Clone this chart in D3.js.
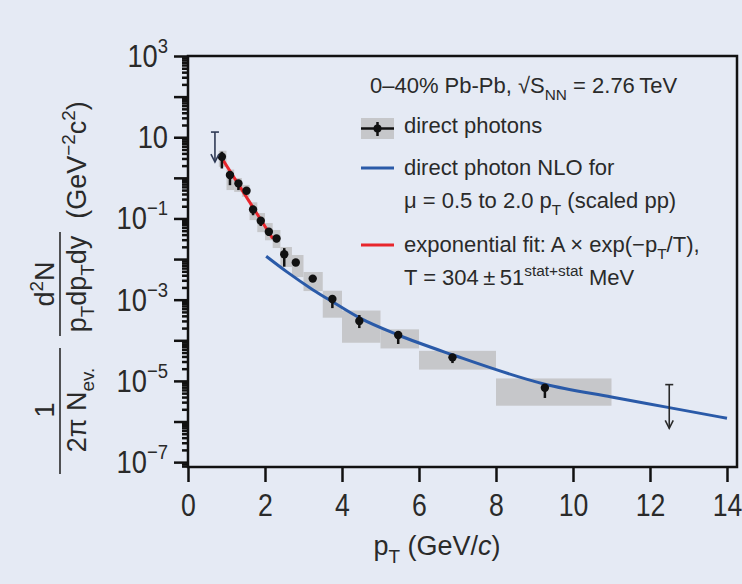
<!DOCTYPE html>
<html>
<head>
<meta charset="utf-8">
<script src="https://cdn.jsdelivr.net/npm/d3@7"></script>
<style>
  body { margin: 0; background: #e5eaf4; }
  svg { display: block; font-family: "Liberation Sans Narrow", "Arial Narrow", "Liberation Sans", sans-serif; }
  text { fill: #2a2a2a; }
</style>
</head>
<body>
<svg id="chart" width="742" height="584"></svg>
<script>
const pt     = [0.88, 1.09, 1.31, 1.52, 1.69, 1.89, 2.1, 2.3, 2.5, 2.8, 3.24, 3.75, 4.45, 5.46, 6.87, 9.27];
const yields = [3.3, 1.17, 0.73, 0.48, 0.166, 0.088, 0.047, 0.032, 0.0131, 0.0082, 0.0033, 0.00104, 3.0e-4, 1.35e-4, 3.8e-5, 6.8e-6];
const binLo  = [0.8, 1.0, 1.2, 1.4, 1.6, 1.8, 2.0, 2.2, 2.4, 2.7, 3.0, 3.5, 4.0, 5.0, 6.0, 8.0];
const binHi  = [1.0, 1.2, 1.4, 1.6, 1.8, 2.0, 2.2, 2.4, 2.7, 3.0, 3.5, 4.0, 5.0, 6.0, 8.0, 11.0];
const sysLo  = [1.87, 0.5, 0.45, 0.34, 0.091, 0.046, 0.029, 0.0187, 0.0064, 0.0036, 0.00163, 3.6e-4, 8.7e-5, 6.3e-5, 1.9e-5, 2.45e-6];
const sysHi  = [4.65, 1.6, 0.99, 0.67, 0.25, 0.136, 0.077, 0.052, 0.0198, 0.0126, 0.0048, 0.00166, 5.4e-4, 1.86e-4, 5.5e-5, 1.15e-5];
const statLo = [1.7, 0.66, 0.5, 0.4, 0.12, 0.065, 0.037, 0.026, 0.0065, 0.0068, 0.0028, 6.2e-4, 2.0e-4, 8.1e-5, 2.75e-5, 3.8e-6];
const statHi = [4.4, 1.35, 0.85, 0.55, 0.19, 0.1, 0.053, 0.036, 0.0186, 0.009, 0.0036, 0.0013, 4.2e-4, 1.6e-4, 4.2e-5, 7.5e-6];

// upper limits
const ulPt  = [0.7, 12.5];
const ulTop = [13.4, 8.1e-6];
const ulTip = [2.45, 6.8e-7];

// NLO pQCD curve (scaled pp)
const nloPt = [2.03, 2.56, 3.25, 3.75, 4.47, 5.46, 6.87, 9.27, 11.0, 12.5, 14.0];
const nloY  = [0.0117, 0.0049, 0.00174, 8.9e-4, 3.5e-4, 1.35e-4, 4.4e-5, 8.3e-6, 4.0e-6, 2.2e-6, 1.2e-6];

// exponential fit (straight on log scale)
const fitPt = [0.83, 2.2];
const fitY  = [3.6, 0.032];

const xTicks = [0, 2, 4, 6, 8, 10, 12, 14];
const yLabelExp = [3, 1, -1, -3, -5, -7];

const svg = d3.select("#chart");
const mLeft = 188, mRight = 737, mTop = 56, mBottom = 467;

const x = d3.scaleLinear().domain([0, 14.26]).range([mLeft, mRight]);
const y = d3.scaleLog().domain([Math.pow(10, -7.12), 1000]).range([mBottom, mTop]);

const grey = "#c6c7ca", blue = "#2a5aa8", red = "#e8262c";

// systematic boxes
svg.append("g").selectAll("rect")
  .data(pt.map((p, i) => i))
  .enter().append("rect")
  .attr("x", i => x(binLo[i]))
  .attr("width", i => x(binHi[i]) - x(binLo[i]))
  .attr("y", i => y(sysHi[i]))
  .attr("height", i => y(sysLo[i]) - y(sysHi[i]))
  .attr("fill", grey);

// NLO curve
svg.append("path")
  .datum(nloPt.map((p, i) => [p, nloY[i]]))
  .attr("fill", "none").attr("stroke", blue).attr("stroke-width", 3)
  .attr("d", d3.line().x(d => x(d[0])).y(d => y(d[1])).curve(d3.curveMonotoneX));

// exponential fit
svg.append("path")
  .datum(fitPt.map((p, i) => [p, fitY[i]]))
  .attr("fill", "none").attr("stroke", red).attr("stroke-width", 3)
  .attr("d", d3.line().x(d => x(d[0])).y(d => y(d[1])));

// stat error bars + points
const pts = svg.append("g");
pts.selectAll("line")
  .data(pt.map((p, i) => i))
  .enter().append("line")
  .attr("x1", i => x(pt[i])).attr("x2", i => x(pt[i]))
  .attr("y1", i => y(statHi[i])).attr("y2", i => y(statLo[i]))
  .attr("stroke", "#111").attr("stroke-width", 2.5);
pts.selectAll("circle")
  .data(pt.map((p, i) => i))
  .enter().append("circle")
  .attr("cx", i => x(pt[i])).attr("cy", i => y(yields[i]))
  .attr("r", 4.2).attr("fill", "#111");

// upper limit arrows
const ulColor = ["#2f3a55", "#2a2a2a"];
ulPt.forEach((p, i) => {
  const g = svg.append("g").attr("stroke", ulColor[i]).attr("stroke-width", 1.6).attr("fill", "none");
  const cx = x(p), y0 = y(ulTop[i]), y1 = y(ulTip[i]);
  g.append("line").attr("x1", cx).attr("x2", cx).attr("y1", y0).attr("y2", y1);
  g.append("line").attr("x1", cx - 4).attr("x2", cx + 4).attr("y1", y0).attr("y2", y0);
  g.append("path").attr("d", `M${cx - 4},${y1 - 8}L${cx},${y1}L${cx + 4},${y1 - 8}`);
});

// frame
svg.append("rect")
  .attr("x", mLeft).attr("y", mTop)
  .attr("width", mRight - mLeft).attr("height", mBottom - mTop)
  .attr("fill", "none").attr("stroke", "#111").attr("stroke-width", 2.5);

// y axis: decades and minor ticks
const decades = d3.range(-7, 4).map(e => Math.pow(10, e));
const minors = [];
d3.range(-8, 3).forEach(e => { for (let k = 2; k <= 9; k++) { const v = k * Math.pow(10, e); if (v >= y.domain()[0] && v <= 1000) minors.push(v); } });

const yMajor = svg.append("g").attr("transform", `translate(${mLeft},0)`)
  .call(d3.axisLeft(y).tickValues(decades).tickSize(14).tickFormat(""));
const yMinor = svg.append("g").attr("transform", `translate(${mLeft},0)`)
  .call(d3.axisLeft(y).tickValues(minors).tickSize(6).tickFormat(""));
[yMajor, yMinor].forEach(g => {
  g.select(".domain").remove();
  g.selectAll("line").attr("stroke", "#111").attr("stroke-width", 2.5);
});

// y tick labels (every other decade), slightly condensed like the original face
const yLab = svg.append("g").attr("font-size", 31).attr("text-anchor", "end");
yLabelExp.forEach(e => {
  const t = yLab.append("text")
    .attr("transform", `translate(168,${y(Math.pow(10, e)) + 11}) scale(0.88,1)`);
  t.append("tspan").text("10");
  if (e !== 1) {
    t.append("tspan").attr("font-size", 21).attr("dy", -14).text(e < 0 ? "\u2212" + (-e) : e);
  }
});

// x axis
const xAx = svg.append("g").attr("transform", `translate(0,${mBottom})`)
  .call(d3.axisBottom(x).tickValues(xTicks).tickSize(15).tickPadding(12));
xAx.select(".domain").remove();
xAx.selectAll("line").attr("stroke", "#111").attr("stroke-width", 2.5);
xAx.selectAll("text").attr("font-size", 31).attr("fill", "#2a2a2a")
  .attr("transform", "scale(0.86,1)")
  .attr("font-family", "Liberation Sans Narrow, Arial Narrow, Liberation Sans, sans-serif");

// helper for sub/superscripts
function rich(t, parts, size) {
  let shift = 0;
  parts.forEach(p => {
    const target = p.s === "sub" ? size * 0.3 : p.s === "sup" ? -size * 0.42 : 0;
    const ts = t.append("tspan").text(p.t).attr("dy", target - shift);
    if (p.s) ts.attr("font-size", size * 0.7);
    if (p.it) ts.attr("font-style", "italic");
    shift = target;
  });
}

// x title
const xt = svg.append("text").attr("x", 437).attr("y", 555).attr("font-size", 27).attr("text-anchor", "middle");
rich(xt, [{ t: "p" }, { t: "T", s: "sub" }, { t: " (GeV/" }, { t: "c", it: true }, { t: ")" }], 27);

// y title (rotated)
const ys = 27;
const yt = svg.append("g").attr("transform", "rotate(-90)").attr("font-size", ys).attr("text-anchor", "middle");
const frac = (cu, nume, deno, x0, x1) => {
  rich(yt.append("text").attr("x", -cu).attr("y", 54), nume, ys);
  yt.append("line").attr("x1", -x1).attr("x2", -x0).attr("y1", 60).attr("y2", 60)
    .attr("stroke", "#2a2a2a").attr("stroke-width", 1.6);
  rich(yt.append("text").attr("x", -cu).attr("y", 86), deno, ys);
};
frac(410, [{ t: "1" }], [{ t: "2\u03c0 N" }, { t: "ev.", s: "sub" }], 348, 474);
frac(284, [{ t: "d" }, { t: "2", s: "sup" }, { t: "N" }],
  [{ t: "p" }, { t: "T", s: "sub" }, { t: "dp" }, { t: "T", s: "sub" }, { t: "dy" }], 232, 336);
rich(yt.append("text").attr("x", -160).attr("y", 86), [{ t: "(GeV" }, { t: "\u22122", s: "sup" }, { t: "c" }, { t: "2", s: "sup" }, { t: ")" }], ys);

// legend
const lg = svg.append("g").attr("font-size", 22);
rich(lg.append("text").attr("x", 370).attr("y", 93),
  [{ t: "0\u201340% Pb-Pb, \u221aS" }, { t: "NN", s: "sub" }, { t: " = 2.76\u2009TeV" }], 22);

lg.append("rect").attr("x", 361).attr("y", 118).attr("width", 33).attr("height", 21).attr("fill", grey);
lg.append("line").attr("x1", 361).attr("x2", 394).attr("y1", 128.5).attr("y2", 128.5).attr("stroke", "#111").attr("stroke-width", 2.5);
lg.append("line").attr("x1", 377.5).attr("x2", 377.5).attr("y1", 122).attr("y2", 136).attr("stroke", "#111").attr("stroke-width", 2.5);
lg.append("circle").attr("cx", 377.5).attr("cy", 128.5).attr("r", 4).attr("fill", "#111");
lg.append("text").attr("x", 404).attr("y", 133).text("direct photons");

lg.append("line").attr("x1", 361).attr("x2", 394).attr("y1", 168).attr("y2", 168).attr("stroke", blue).attr("stroke-width", 3);
lg.append("text").attr("x", 404).attr("y", 175).text("direct photon NLO for");
rich(lg.append("text").attr("x", 404).attr("y", 208),
  [{ t: "\u03bc = 0.5 to 2.0 p" }, { t: "T", s: "sub" }, { t: " (scaled pp)" }], 22);

lg.append("line").attr("x1", 361).attr("x2", 394).attr("y1", 245).attr("y2", 245).attr("stroke", red).attr("stroke-width", 3);
rich(lg.append("text").attr("x", 404).attr("y", 252),
  [{ t: "exponential fit: A \u00d7 exp(\u2212p" }, { t: "T", s: "sub" }, { t: "/T)," }], 22);
rich(lg.append("text").attr("x", 404).attr("y", 285),
  [{ t: "T = 304\u2009\u00b1\u200951" }, { t: "stat+stat", s: "sup" }, { t: " MeV" }], 22);
</script>
</body>
</html>
